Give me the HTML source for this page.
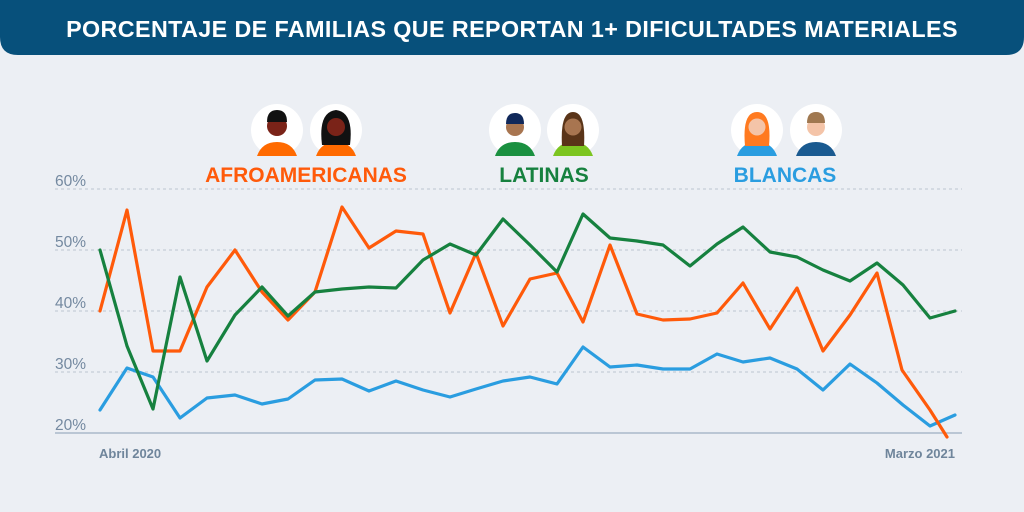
<!DOCTYPE html>
<html><head><meta charset="utf-8"><style>
html,body{margin:0;padding:0;background:#eceff4;}
svg{display:block;font-family:"Liberation Sans",sans-serif;}
</style></head><body>
<svg width="1024" height="512" viewBox="0 0 1024 512">
<rect width="1024" height="512" fill="#eceff4"/>
<path d="M0 0H1024V37Q1024 55 1006 55H18Q0 55 0 37Z" fill="#07507b"/>
<text x="512" y="37" text-anchor="middle" fill="#fff" font-size="23.3" font-weight="bold" letter-spacing="0.4">PORCENTAJE DE FAMILIAS QUE REPORTAN 1+ DIFICULTADES MATERIALES</text>
<g stroke="#c5ced8" stroke-width="1.2" stroke-dasharray="3,3">
<line x1="55" y1="189" x2="962" y2="189"/><line x1="55" y1="250" x2="962" y2="250"/><line x1="55" y1="311" x2="962" y2="311"/><line x1="55" y1="372" x2="962" y2="372"/>
</g>
<line x1="55" y1="433" x2="962" y2="433" stroke="#a9b9c9" stroke-width="1.5"/>
<g fill="#7489a0" font-size="15.5">
<text x="55" y="186">60%</text><text x="55" y="247">50%</text><text x="55" y="308">40%</text><text x="55" y="369">30%</text><text x="55" y="430">20%</text>
</g>
<g fill="#6f859b" font-size="13" font-weight="bold">
<text x="99" y="458">Abril 2020</text><text x="955" y="458" text-anchor="end">Marzo 2021</text>
</g>
<g fill="none" stroke-width="3.2" stroke-linejoin="round" stroke-linecap="round">
<polyline stroke="#2a9de0" points="100,410 127,368 153,377 180,418 207,398 235,395 262,404 288,399 315,380 342,379 369,391 396,381 423,390 450,397 476,389 503,381 530,377 557,384 583,347 610,367 637,365 663,369 690,369 717,354 743,362 770,358 797,369 823,390 850,364 877,383 903,405 930,426 955,415"/>
<polyline stroke="#ff5a0a" points="100,311 127,210 153,351 180,351 207,287 235,250 262,292 288,320 315,292 342,207 369,248 396,231 423,234 450,313 476,253 503,326 530,279 557,273 583,322 610,245 637,314 663,320 690,319 717,313 743,283 770,329 797,288 823,351 850,315 877,273 902,370 930,410 947,437"/>
<polyline stroke="#16813f" points="100,250 127,346 153,409 180,277 207,361 235,315 262,287 288,316 315,292 342,289 369,287 396,288 423,260 450,244 476,255 503,219 530,245 557,272 583,214 610,238 637,241 663,245 690,266 717,244 743,227 770,252 797,257 823,270 850,281 877,263 903,285 930,318 955,311"/>
</g>
<g font-size="21" font-weight="bold" text-anchor="middle">
<text x="306" y="182" fill="#ff5a0a">AFROAMERICANAS</text>
<text x="544" y="182" fill="#16813f">LATINAS</text>
<text x="785" y="182" fill="#2a9de0">BLANCAS</text>
</g>
<g>
<circle cx="277" cy="130" r="26" fill="#fff"/><circle cx="336" cy="130" r="26" fill="#fff"/>
<circle cx="515" cy="130" r="26" fill="#fff"/><circle cx="573" cy="130" r="26" fill="#fff"/>
<circle cx="757" cy="130" r="26" fill="#fff"/><circle cx="816" cy="130" r="26" fill="#fff"/>
<path d="M257 156Q262 142 277 142Q292 142 297 156Z" fill="#ff6a00"/><circle cx="277" cy="126" r="10" fill="#7a2318"/><path d="M267 122Q267 110 277 110Q287 110 287 122Z" fill="#111"/>
<path d="M316 156Q321 142 336 142Q351 142 356 156Z" fill="#ff6a00"/><path d="M322 145Q318 112 336 110Q354 112 350 145Z" fill="#111"/><circle cx="336" cy="127" r="9" fill="#7a2318"/>
<path d="M495 156Q500 142 515 142Q530 142 535 156Z" fill="#1a9040"/><circle cx="515" cy="127" r="9" fill="#a87550"/><path d="M506 124Q506 113 515 113Q524 113 524 124Z" fill="#10285a"/>
<path d="M553 156Q558 142 573 142Q588 142 593 156Z" fill="#7cc520"/><path d="M562 146Q560 112 573 112Q586 112 584 146Z" fill="#5a3418"/><circle cx="573" cy="127" r="8.5" fill="#a87550"/>
<path d="M737 156Q742 142 757 142Q772 142 777 156Z" fill="#2a9de0"/><path d="M745 146Q742 112 757 112Q772 112 769 146Z" fill="#ff7a20"/><circle cx="757" cy="127" r="8.5" fill="#f4c4a8"/>
<path d="M796 156Q801 142 816 142Q831 142 836 156Z" fill="#1a5a90"/><circle cx="816" cy="127" r="9" fill="#f4c4a8"/><path d="M807 123Q807 112 816 112Q825 112 825 123Z" fill="#a07850"/>
</g>
</svg>
</body></html>
